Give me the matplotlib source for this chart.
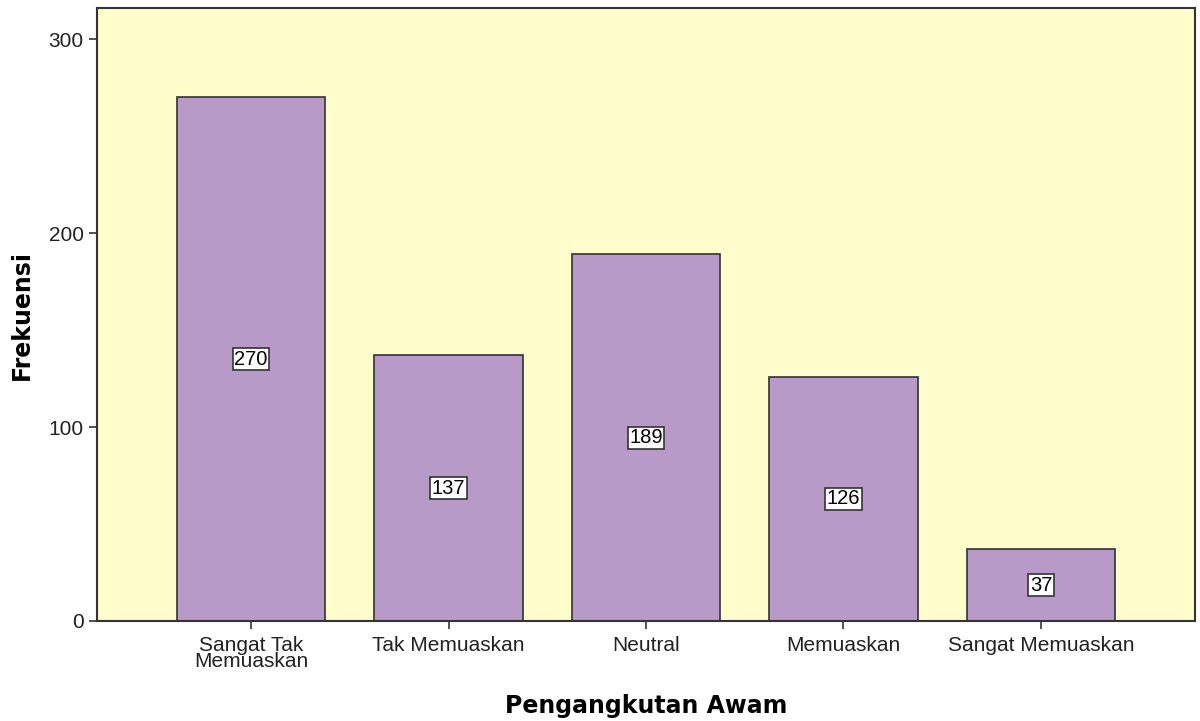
import matplotlib.pyplot as plt
import numpy as np

# Frequency of ratings for public transport
categories = ['Sangat Tak\nMemuaskan', 'Tak Memuaskan', 'Neutral', 'Memuaskan', 'Sangat Memuaskan']
counts = [270, 137, 189, 126, 37]
y_ticks = [0, 100, 200, 300]

BG_COLOR = '#FFFDCC'
BAR_COLOR = '#B89AC9'
ARIAL = 'Liberation Sans'

fig = plt.figure(figsize=(12, 7.21), dpi=100)
ax = fig.add_axes([97 / 1200, 1 - 621 / 721, (1195 - 97) / 1200, (621 - 8) / 721])
ax.set_facecolor(BG_COLOR)

x = np.arange(len(categories))
ax.bar(x, counts, width=0.75, color=BAR_COLOR, edgecolor='#333333', linewidth=1.2, zorder=2)

# value labels in the middle of each bar
for xi, c in zip(x, counts):
    ax.text(xi, c / 2, str(c), ha='center', va='center', fontsize=14.5, family=ARIAL,
            bbox=dict(facecolor='white', edgecolor='#333333', linewidth=1.2,
                      boxstyle='square,pad=0.08'),
            zorder=3)

ax.set_xlim(-0.78, 4.78)
ax.set_ylim(0, 316)
ax.set_xticks(x)
ax.set_xticklabels(categories, fontsize=15, family=ARIAL, linespacing=0.8)
ax.set_yticks(y_ticks)
ax.set_yticklabels([str(t) for t in y_ticks], fontsize=15, family=ARIAL)
ax.tick_params(axis='both', length=6, width=1.2, color='#333333', labelcolor='#222222')
ax.tick_params(axis='x', pad=5)

for spine in ax.spines.values():
    spine.set_color('#333333')
    spine.set_linewidth(1.5)

fig.text(646 / 1200, 1 - 706 / 721, 'Pengangkutan Awam', fontsize=17, fontweight='bold',
         ha='center', va='center')
fig.text(22 / 1200, 1 - 315 / 721, 'Frekuensi', fontsize=17, fontweight='bold',
         ha='center', va='center', rotation=90)

fig.savefig('out.png', dpi=100)
